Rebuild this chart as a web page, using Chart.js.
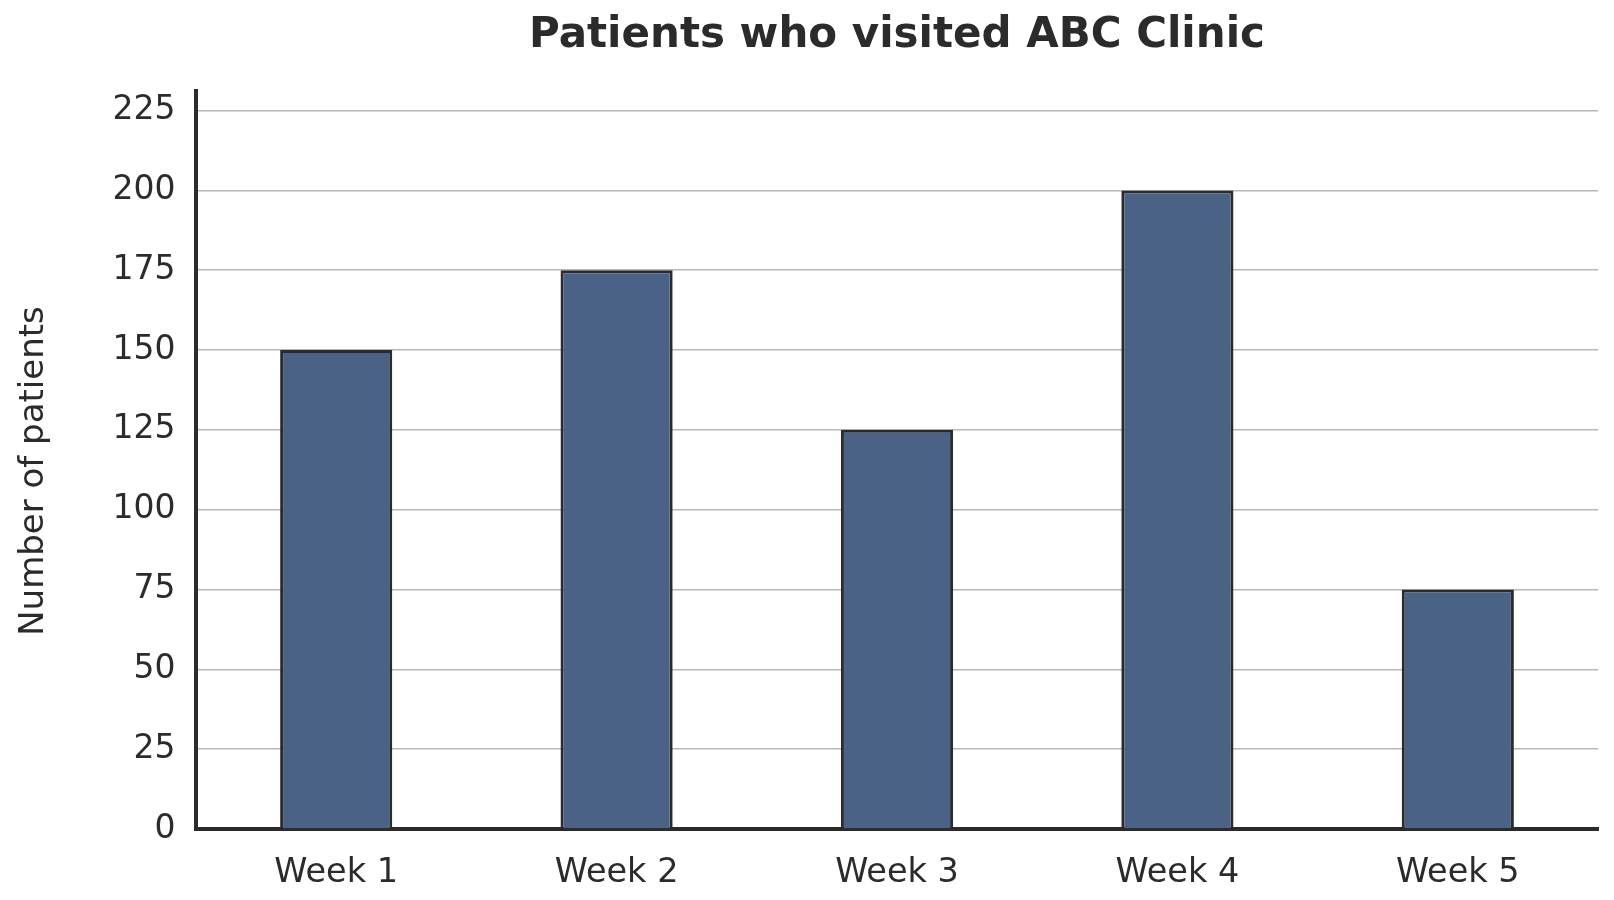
<!DOCTYPE html>
<html>
<head>
<meta charset="utf-8">
<script src="https://cdn.jsdelivr.net/npm/chart.js@4"></script>
<style>
    html, body { margin: 0; padding: 0; background: #fff; }
    #wrap { width: 1614px; height: 900px; }
</style>
</head>
<body>
<div id="wrap"><canvas id="chart"></canvas></div>
<script>
// data
const weeks = ['Week 1', 'Week 2', 'Week 3', 'Week 4', 'Week 5'];
const patients = [150, 175, 125, 200, 75];
const yTicks = [0, 25, 50, 75, 100, 125, 150, 175, 200, 225];

const ink = '#2b2b2b';
const font = "'DejaVu Sans', Verdana, sans-serif";

const context = document.querySelector('#chart').getContext('2d');

const chart = new Chart(context, {
    type: 'bar',
    data: {
        labels: weeks,
        datasets: [{
            label: 'Number of patients',
            data: patients,
            backgroundColor: '#4a6285',
            borderColor: ink,
            borderWidth: 3,
            barPercentage: 0.4,
            categoryPercentage: 1
        }]
    },
    options: {
        responsive: true,
        maintainAspectRatio: false,
        animation: false,
        layout: {
            padding: { left: 0, right: 16, top: 0, bottom: 0 }
        },
        scales: {
            x: {
                grid: { display: false, drawTicks: false },
                border: { color: ink, width: 4 },
                ticks: {
                    color: ink,
                    padding: 24,
                    font: { family: font, size: 33.5 }
                },
                afterFit: scale => { scale.height = 71; }
            },
            y: {
                min: 0,
                max: 231,
                afterBuildTicks: scale => {
                    scale.ticks = yTicks.map(v => ({ value: v }));
                },
                grid: { color: '#b8b8b8', lineWidth: 1.5, drawTicks: false },
                border: { color: ink, width: 4 },
                ticks: {
                    color: ink,
                    padding: 20.5,
                    font: { family: font, size: 33 }
                },
                title: {
                    display: true,
                    // trailing spaces nudge the rotated title down a bit, like the original
                    text: 'Number of patients  ',
                    color: ink,
                    padding: { top: 14, bottom: 0 },
                    font: { family: font, size: 34 }
                },
                afterFit: scale => { scale.width = 196; }
            }
        },
        plugins: {
            legend: { display: false },
            tooltip: { enabled: false },
            title: {
                display: true,
                fullSize: false, // centre over the plot area, not the whole canvas
                text: 'Patients who visited ABC Clinic',
                color: ink,
                padding: { top: 11, bottom: 30 },
                font: { family: font, size: 42, weight: 'bold', lineHeight: 1.2 }
            }
        }
    }
});
</script>
</body>
</html>
